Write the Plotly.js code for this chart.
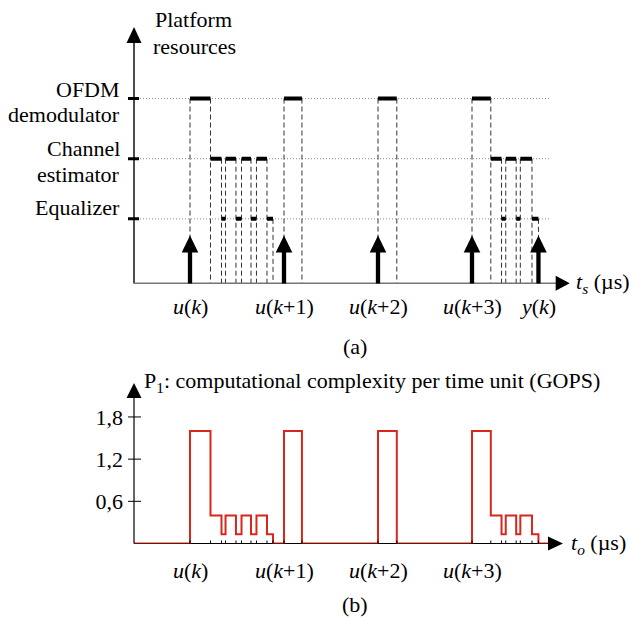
<!DOCTYPE html>
<html><head><meta charset="utf-8">
<script src="https://cdn.plot.ly/plotly-3.0.1.min.js"></script>
<style>html,body{margin:0;padding:0;background:#fff}</style>
</head><body><div id="chart" style="width:629px;height:618px"></div>
<script>
// ---------------- data (times in µs, relative to u(k)) ----------------
const inputTimes = [0, 10, 20, 30];
const inputLabels = ['<i>u</i>(<i>k</i>)', '<i>u</i>(<i>k</i>+1)', '<i>u</i>(<i>k</i>+2)', '<i>u</i>(<i>k</i>+3)'];
const outputTimes = [37.07];
const outputLabels = ['<i>y</i>(<i>k</i>)'];
const resourceLevels = [1, 2, 3];
const resourceLines = [['Equalizer'], ['Channel', 'estimator'], ['OFDM', 'demodulator']];
const demodStart = [0, 10, 20, 30];
const demodEnd = [2.18, 11.91, 22.0, 32.0];
const chanStart = [2.18, 3.78, 5.48, 7.07, 32.0, 33.59, 35.14];
const chanEnd = [3.35, 4.89, 6.49, 8.19, 33.14, 34.70, 36.38];
const eqStart = [3.35, 4.89, 6.49, 8.19, 33.14, 34.70, 36.38];
const eqEnd = [3.78, 5.48, 7.07, 8.83, 33.59, 35.14, 37.07];
const demodGops = 1.6;
const chanGops = 0.4;
const eqGops = 0.13;
const gopsTicks = [0.6, 1.2, 1.8];

// ---------------- layout helpers ----------------
const W = 629, H = 618;
const PX = v => v / W;
const PY = v => 1 - v / H;
const FONT = 'Liberation Serif';
const X_RANGE = [-5.957, 40.319];
const TOP_Y = [-0.075, 4.19];
const BOT_Y = [0, 2.283];
const GRID_END = 38.2;
const RED_END = 38.3;

const traces = [];
const shapes = [];
const annotations = [];

// ---------- top panel: resource occupation ----------
const tasks = [];
demodStart.forEach((s, i) => tasks.push({s, e: demodEnd[i], lvl: resourceLevels[2], g: demodGops}));
chanStart.forEach((s, i) => tasks.push({s, e: chanEnd[i], lvl: resourceLevels[1], g: chanGops}));
eqStart.forEach((s, i) => tasks.push({s, e: eqEnd[i], lvl: resourceLevels[0], g: eqGops}));

// dotted guide lines
resourceLevels.forEach(l => shapes.push({type: 'line', xref: 'x', yref: 'y', x0: X_RANGE[0], x1: GRID_END, y0: l, y1: l,
  line: {color: '#8a8a8a', width: 1, dash: '1px,2px'}, layer: 'below'}));

// task boundaries: one dashed drop line per boundary, from the highest bar touching it
const bounds = [];
tasks.forEach(t => [t.s, t.e].forEach(v => {
  const b = bounds.find(o => Math.abs(o.t - v) < 1e-6);
  if (b) b.lvl = Math.max(b.lvl, t.lvl); else bounds.push({t: v, lvl: t.lvl});
}));
const dx = [], dy = [];
bounds.forEach(b => { dx.push(b.t, b.t, null); dy.push(b.lvl, -0.12, null); });
traces.push({x: dx, y: dy, xaxis: 'x', yaxis: 'y', mode: 'lines', hoverinfo: 'skip',
  line: {color: '#333', width: 1, dash: '5px,3px'}});

// thick busy bars
const bx = [], by = [];
tasks.forEach(t => { bx.push(t.s, t.e, null); by.push(t.lvl, t.lvl, null); });
traces.push({x: bx, y: by, xaxis: 'x', yaxis: 'y', mode: 'lines', hoverinfo: 'skip',
  line: {color: '#000', width: 4}});

// ---------- bottom panel: computational complexity ----------
const iv = tasks.map(t => [t.s, t.e, t.g]).sort((a, b) => a[0] - b[0]);
const sx = [], sy = [];
let prevEnd = X_RANGE[0];
iv.forEach(([s, e, g]) => {
  if (s > prevEnd + 1e-9) { sx.push(prevEnd); sy.push(0); }
  sx.push(s); sy.push(g); prevEnd = e;
});
sx.push(prevEnd); sy.push(0); sx.push(RED_END); sy.push(0);
traces.push({x: sx, y: sy, xaxis: 'x2', yaxis: 'y2', mode: 'lines', hoverinfo: 'skip',
  line: {color: '#d9261c', width: 2, shape: 'hv'}});

// ---------- axes drawn as arrows ----------
function tri(xref, yref, xa, ya, path) {
  shapes.push({type: 'path', xref, yref, xsizemode: 'pixel', ysizemode: 'pixel', xanchor: xa, yanchor: ya,
    path, fillcolor: '#000', line: {width: 0}});
}
// top y axis
shapes.push({type: 'line', xref: 'paper', yref: 'paper', x0: PX(134), x1: PX(134), y0: PY(283.5), y1: PY(40), line: {color: '#000', width: 1.4}});
tri('paper', 'paper', PX(134), PY(27), 'M0,0 L-7.5,-16 L7.5,-16 Z');
// top x axis
shapes.push({type: 'line', xref: 'paper', yref: 'paper', x0: PX(134), x1: PX(558), y0: PY(283.3), y1: PY(283.3), line: {color: '#777', width: 1.6}});
tri('paper', 'paper', PX(569.7), PY(283.3), 'M0,0 L-14,7.5 L-14,-7.5 Z');
// top y ticks
resourceLevels.forEach(l => shapes.push({type: 'line', xref: 'paper', yref: 'y', xsizemode: 'pixel', xanchor: PX(134),
  x0: -6, x1: 5, y0: l, y1: l, line: {color: '#000', width: 3}}));
// bottom y axis
shapes.push({type: 'line', xref: 'paper', yref: 'paper', x0: PX(134), x1: PX(134), y0: PY(543.5), y1: PY(396), line: {color: '#000', width: 1.2}});
tri('paper', 'paper', PX(134), PY(383), 'M0,0 L-7.5,-15 L7.5,-15 Z');
// bottom x axis
shapes.push({type: 'line', xref: 'paper', yref: 'paper', x0: PX(134), x1: PX(550), y0: PY(543.5), y1: PY(543.5), line: {color: '#000', width: 1.2}, layer: 'below'});
tri('paper', 'paper', PX(563), PY(543.5), 'M0,0 L-15,7 L-15,-7 Z');
// bottom y ticks
gopsTicks.forEach(v => shapes.push({type: 'line', xref: 'paper', yref: 'y2', xsizemode: 'pixel', xanchor: PX(134),
  x0: -6, x1: 7, y0: v, y1: v, line: {color: '#000', width: 1}}));
// bottom x ticks at every task boundary
bounds.forEach(b => shapes.push({type: 'line', xref: 'x2', yref: 'y2', ysizemode: 'pixel', yanchor: 0,
  x0: b.t, x1: b.t, y0: -4, y1: 3, line: {color: '#000', width: 1}}));

// input / output event arrows
inputTimes.concat(outputTimes).forEach(t => {
  shapes.push({type: 'line', xref: 'x', yref: 'y', x0: t, x1: t, y0: -0.09, y1: 0.5, line: {color: '#000', width: 4.3}});
  tri('x', 'y', t, 0.725, 'M0,0 L-8.3,-17 L8.3,-17 Z');
});

// ---------- texts ----------
function txt(text, x, y, xanchor, xref, yref) {
  annotations.push({text, x, y, xref: xref || 'paper', yref: yref || 'paper', xanchor: xanchor || 'center', yanchor: 'middle',
    showarrow: false, font: {family: FONT, size: 22, color: '#000'}});
}
txt('Platform', PX(193), PY(19.5));
txt('resources', PX(194), PY(46));
const labelY = [[207], [149, 174.7], [89.7, 114.7]];
resourceLines.forEach((lines, i) => lines.forEach((s, j) => txt(s, PX(122), PY(labelY[i][j]), 'right')));
inputTimes.forEach((t, i) => txt(inputLabels[i], t, PY(306), 'center', 'x'));
outputTimes.forEach((t, i) => txt(outputLabels[i], t, PY(306), 'center', 'x'));
txt('(a)', PX(355), PY(346));
txt('<i>t</i><sub><i>s</i></sub> (µs)', PX(574), PY(283), 'left');
txt('P<sub>1</sub>: computational complexity per time unit (GOPS)', PX(142), PY(382), 'left');
inputTimes.forEach((t, i) => txt(inputLabels[i], t, PY(570), 'center', 'x2'));
txt('(b)', PX(355), PY(604));
txt('<i>t</i><sub><i>o</i></sub> (µs)', PX(569), PY(543.5), 'left');

const hidden = {showline: false, showgrid: false, zeroline: false, showticklabels: false, ticks: '', fixedrange: true};
const layout = {
  width: W, height: H, margin: {l: 0, r: 0, t: 0, b: 0},
  paper_bgcolor: '#fff', plot_bgcolor: 'rgba(0,0,0,0)', showlegend: false,
  separators: ',.',
  font: {family: FONT, size: 22, color: '#000'},
  xaxis: Object.assign({}, hidden, {domain: [PX(134), PX(569)], range: X_RANGE, anchor: 'y'}),
  yaxis: Object.assign({}, hidden, {domain: [PY(283.5), PY(27)], range: TOP_Y, anchor: 'x'}),
  xaxis2: Object.assign({}, hidden, {domain: [PX(134), PX(569)], range: X_RANGE, anchor: 'y2'}),
  yaxis2: Object.assign({}, hidden, {domain: [PY(543.5), PY(383)], range: BOT_Y, anchor: 'x2',
    showticklabels: true, tickvals: gopsTicks, tickformat: '.1f', ticklabelstandoff: 10,
    tickfont: {family: FONT, size: 22, color: '#000'}}),
  shapes, annotations
};
Plotly.newPlot('chart', traces, layout, {staticPlot: true, displayModeBar: false});
</script></body></html>
